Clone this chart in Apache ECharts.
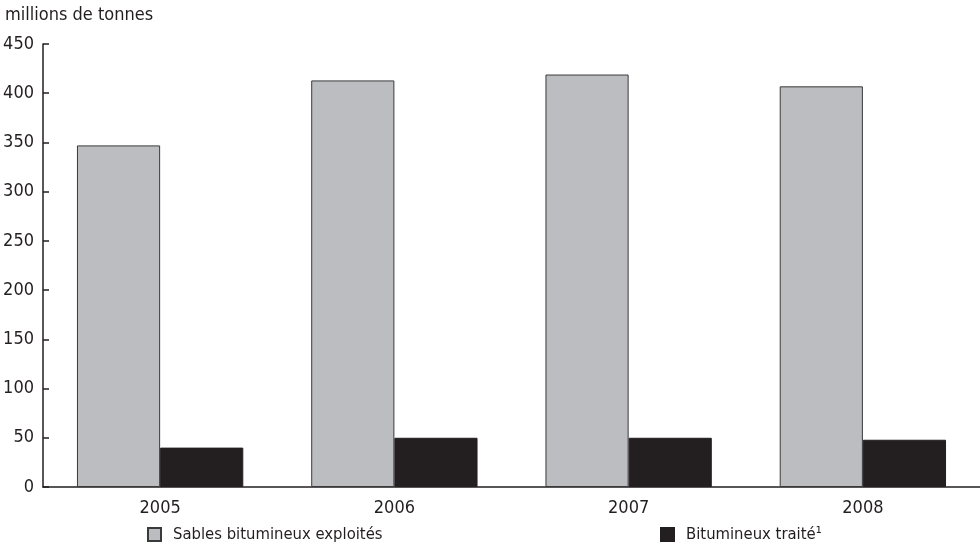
<!DOCTYPE html>
<html><head><meta charset="utf-8">
<script src="https://cdn.jsdelivr.net/npm/echarts@6/dist/echarts.min.js"></script>
<style>html,body{margin:0;padding:0;background:#fff}#c{width:980px;height:545px}</style>
</head><body><div id="c"></div>
<script>
const categories = ['2005', '2006', '2007', '2008'];
const sablesExploites = [347, 413, 419, 407];
const bitumineuxTraite = [40, 50, 50, 48];
const yTicks = [0, 50, 100, 150, 200, 250, 300, 350, 400, 450];

const FONT = '"Liberation Sans Narrow", "DejaVu Sans Condensed", "Roboto", sans-serif';
const chart = echarts.init(document.getElementById('c'), null, {renderer: 'canvas'});
chart.setOption({
  animation: false,
  textStyle: {fontFamily: FONT},
  graphic: [{type: 'text', left: 5, top: 6, style: {text: 'millions de tonnes', font: '18px ' + FONT, fill: '#231f20'}}],
  legend: [
    {data: ['Sables bitumineux exploités'], left: 147, top: 526, padding: 0, icon: 'rect', itemWidth: 13, itemHeight: 13, itemGap: 10,
     textStyle: {fontFamily: FONT, fontSize: 16.5, color: '#231f20', padding: [0, 0, 0, 7]}},
    {data: ['Bitumineux traité¹'], left: 660, top: 526, padding: 0, icon: 'rect', itemWidth: 13, itemHeight: 13, itemGap: 10,
     textStyle: {fontFamily: FONT, fontSize: 16.5, color: '#231f20', padding: [0, 0, 0, 7]}}
  ],
  grid: {left: 43, right: 0, top: 44, bottom: 58, containLabel: false},
  xAxis: {
    type: 'category', data: categories,
    axisLine: {lineStyle: {color: '#231f20', width: 1.5}},
    axisTick: {show: false},
    axisLabel: {color: '#231f20', fontSize: 18, fontFamily: FONT, margin: 12}
  },
  yAxis: {
    type: 'value', min: yTicks[0], max: yTicks[yTicks.length - 1], interval: 50,
    axisLine: {show: true, lineStyle: {color: '#231f20', width: 1.5}},
    axisTick: {show: true, inside: true, length: 6, lineStyle: {color: '#231f20', width: 1.5}},
    splitLine: {show: false},
    axisLabel: {color: '#231f20', fontSize: 18, fontFamily: FONT, margin: 9}
  },
  series: [
    {name: 'Sables bitumineux exploités', type: 'bar', data: sablesExploites, barGap: '0%', barCategoryGap: '29%',
     itemStyle: {color: '#bcbdc0', borderColor: '#3a3a3a', borderWidth: 1}},
    {name: 'Bitumineux traité¹', type: 'bar', data: bitumineuxTraite,
     itemStyle: {color: '#231f20', borderColor: '#231f20', borderWidth: 1}}
  ]
});
</script></body></html>
